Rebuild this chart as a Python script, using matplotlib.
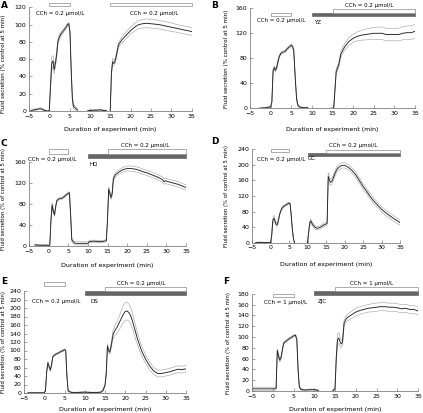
import numpy as np
import matplotlib
matplotlib.use('Agg')
from matplotlib import pyplot as plt
from matplotlib import transforms
from matplotlib.patches import Rectangle

nan = np.nan

# data: rows of (time min, mean, SE)
panel_a = [(-4.5,0.5,0.5),(-4,1,0.8),(-3.5,1.5,1),(-3,2,1),(-2.5,2.5,1),(-2,2.5,1),(-1.5,1.5,0.8),(-1,0.5,0.5),
           (-0.5,0,0.3),(0,0.5,0.5),(0.3,30,5),(0.6,55,8),(0.9,58,6),(1.2,48,5),(1.5,55,4),(1.8,65,4),(2.1,80,3),
           (2.5,86,3),(3,90,2),(3.5,93,2),(4,96,2),(4.5,100,1.5),(4.8,101,1.5),(5.1,90,3),(5.4,45,4),(5.7,12,4),
           (6,5,3),(6.5,3,2),(7,1,1),(nan,nan,nan),(9.5,0.5,0.5),(10,0.5,0.5),(11,1,0.5),(12,1,0.5),(12.5,1.5,0.8),
           (13,1,0.5),(13.5,0.5,0.5),(14,0.5,0.5),(nan,nan,nan),(15,0,0.3),(15.3,45,4),(15.6,57,4),(15.9,55,3),
           (16.2,58,3),(16.5,64,3),(17,76,3),(17.5,80,3),(18,83,3.5),(19,88,4),(20,93,4),(21,97,4.5),(22,100,4.5),
           (23,101,5),(24,101.5,5),(25,101,5),(26,100.5,5),(27,100,5),(28,99,5),(29,98,5),(30,97,5),(31,96,4.5),
           (32,95,4.5),(33,94,4.5),(34,93,4.5),(35,92,4.5)]

panel_b = [(-3,0,0.3),(-2,0.5,0.3),(-1,1,0.5),(-0.5,2,0.5),(0,2,0.5),(0.3,10,2),(0.6,60,4),(0.9,65,3),(1.2,61,3),
           (1.5,66,3),(1.8,75,3),(2.1,83,2),(2.5,88,2),(3,90,2),(3.5,91,2),(4,95,2),(4.5,98,2),(5,101,2),(5.3,99,2),
           (5.6,93,2),(6,45,3),(6.3,15,3),(6.6,5,2),(7,2,1),(8,1,0.5),(9,1,0.5),(nan,nan,nan),(14.5,0,0.3),(15,0,0.3),
           (15.3,1,0.5),(15.6,30,4),(15.9,59,4),(16.2,64,4),(16.5,69,4),(17,86,5),(17.5,93,5),(18,99,5.5),(19,107,6),
           (20,112,6.5),(21,115,7),(22,117,8),(23,118,8.5),(24,119,9),(25,120,9.5),(26,120,10),(27,120,10),
           (28,118,10),(29,118,10),(30,118,10),(31,118,10),(32,120,10.5),(33,121,10.5),(34,121,11),(35,123,11)]

panel_c = [(-3.5,2,0.8),(-3,2,0.8),(-2.5,1.5,0.8),(-2,1.5,0.8),(-1.5,1.5,0.8),(-1,1.5,0.8),(-0.5,1.5,0.8),(0,1,0.5),
           (0.3,2,1),(0.6,50,4),(0.9,78,4),(1.2,66,3),(1.5,59,3),(1.8,75,3),(2.1,86,2),(2.5,89,2),(3,90,2),
           (3.5,91,2),(4,94,2),(4.5,97,2),(5,100,2),(5.3,101,2),(5.6,60,4),(5.9,12,4),(6.5,6,3),(7,5,3),(8,5,3),
           (9,5,3),(10,5,3),(10.3,8,2),(11,9,2),(12,9,2),(13,8,2),(14,9,2),(14.7,10,2),(15,50,4),(15.3,108,4),
           (15.6,100,4),(15.9,92,4),(16.2,100,4),(16.5,128,4),(17,135,4),(17.5,138,4),(18,141,4),(19,145,4.5),
           (20,147,4.5),(21,147,5),(22,146,5),(23,144,5),(24,141,5),(25,139,5),(26,136,5),(27,133,5),(28,130,5),
           (29,126,5),(29.4,122,5),(29.8,124,5),(30,123,5),(31,121,5),(32,119,5),(33,117,5),(34,114,5),(35,111,5)]

panel_d = [(-4,0.5,0.5),(-3,1,0.5),(-2,0.5,0.5),(-1,0.5,0.5),(-0.5,0,0.3),(0,0,0.3),(0.3,15,4),(0.6,55,7),
           (0.9,63,8),(1.2,56,6),(1.5,48,5),(1.8,46,4),(2.1,56,4),(2.5,74,3),(3,87,3),(3.5,93,3),(4,96,2.5),
           (4.5,99,2.5),(5,102,2),(5.3,100,2),(5.6,70,3),(5.9,35,3),(6.2,10,2),(6.5,0,0.5),(nan,nan,nan),
           (10,0,0.5),(10.3,25,5),(10.6,50,6),(10.9,56,5),(11.2,50,5),(11.6,44,4),(12,40,4),(12.5,37,4),(13,38,4),
           (13.5,40,4),(14,43,4),(14.5,46,4),(15,48,4),(15.3,50,4),(15.6,170,10),(15.9,162,9),(16.2,155,8),
           (16.6,158,7),(17,167,7),(17.5,180,7),(18,189,7),(18.5,194,7),(19,197,7),(19.5,199,7),(20,199,7),
           (21,194,7),(22,186,7),(23,175,7),(24,160,7),(25,145,7),(26,132,7),(27,118,7),(28,106,7),(29,96,7),
           (30,86,7),(31,78,7),(32,71,7),(33,64,7),(34,58,7),(35,52,7)]

panel_e = [(-4,0.5,0.3),(-3,0.5,0.3),(-2,0.5,0.3),(-1,0.5,0.3),(0,0.5,0.3),(0.3,5,1),(0.6,50,4),(0.9,71,4),
           (1.2,62,3),(1.5,54,3),(1.8,66,3),(2.1,85,2),(2.5,89,2),(3,92,2),(3.5,94,2),(4,97,2),(4.5,99,2),(5,102,2),
           (5.3,100,2),(5.6,40,3),(5.9,5,2),(6.5,2,1),(7,1,1),(8,1,1),(9,1.5,1),(10,2,1),(11,1.5,1),(12,1,1),
           (13,1,1),(14,2,1),(14.5,6,2),(15,18,3),(15.3,45,4),(15.6,110,6),(15.9,100,5),(16.2,96,5),(16.5,110,6),
           (17,138,10),(17.5,148,12),(18,155,14),(18.5,165,16),(19,175,18),(19.5,185,20),(20,192,21),(20.5,193,21),
           (21,188,20),(21.5,178,19),(22,162,17),(22.5,145,16),(23,128,14),(24,100,12),(25,80,10),(26,64,9),
           (27,52,8),(28,46,8),(29,46,8),(30,48,8),(31,50,8),(32,53,8),(33,56,8),(34,55,8),(35,57,8)]

panel_f = [(-5,4,3),(-4,4,3),(-3,4,3),(-2,4,3),(-1,4,3),(0,4,3),(0.5,4,3),(0.8,5,2),(1.1,75,3),(1.4,65,3),
           (1.7,57,3),(2,62,3),(2.3,75,2),(2.6,88,2),(3,91,2),(3.5,94,2),(4,97,2),(4.5,99,2),(5,102,2),(5.5,103,2),
           (5.8,95,2),(6.1,40,3),(6.4,8,2),(6.8,3,1.5),(7.5,2,1),(8,2,1),(9,2.5,1),(10,2.5,1),(10.5,2,1),(11,1,0.5),
           (nan,nan,nan),(14.5,1,0.5),(15,4,3),(15.3,60,8),(15.6,95,10),(15.9,98,10),(16.2,91,8),(16.5,87,6),
           (16.8,90,6),(17.2,126,6),(17.6,132,6),(18,136,6),(19,141,6.5),(20,146,7),(21,149,7),(22,151,7),
           (23,153,7),(24,154,7.5),(25,155,7.5),(26,156,7.5),(27,156,7.5),(28,155,7.5),(29,155,7.5),(30,154,7.5),
           (31,152,7.5),(32,153,7.5),(33,151,7.5),(34,151,7.5),(35,148,7.5)]

letters = ['A', 'B', 'C', 'D', 'E', 'F']
ymax = [120, 160, 160, 240, 240, 180]
ystep = [20, 40, 40, 40, 20, 20]
ylabels = ['Fluid secretion (% control at 5 min)'] * 2 + ['Fluid secretion (% of control at 5 min)'] * 4
drugs = ['', 'YZ', 'HQ', 'GC', 'DS', 'ZJC']
cch_labels = ['CCh = 0.2 \u03bcmol/L'] * 5 + ['CCh = 1 \u03bcmol/L']
cch1 = (0, 5)
cch2 = (15, 35)
drug_on = (10, 35)

W, H = 423, 413
fig = plt.figure(figsize=(W / 100, H / 100), dpi=100)

# pixel layout: axes box, letter, ylabel x, xlabel y
boxes = [(29, 191.5, 7.3, 111), (250, 415, 8.3, 108.3), (29, 186, 161.7, 246),
         (252, 400, 149.3, 242.7), (24, 186, 291, 393), (252, 418, 293.7, 391)]
letter_pos = [(4, 5), (215, 5), (4, 143), (215, 141), (4, 281), (226, 281)]
ylab_x = [6, 229, 6, 229, 6, 231]
ylab_y = [64, 59, 199, 196, 342, 343]
ylab_fs = [4.1, 4.1, 3.9, 3.9, 3.9, 3.9]
xlab_y = [127, 127, 263, 262, 407, 407]

# annotation pixel positions (y top/bottom of bars, text centres)
open1_y = [(3, 6), (13, 16), (149.3, 154), (149.3, 152.3), (282, 286), (293.7, 297)]
open2_y = [(3, 6), (9.3, 12.5), (149.3, 154.3), (150, 153.3), (287, 291), (287, 290.7)]
dark_y = [None, (12.5, 16), (154.3, 158.3), (153.3, 156), (291, 295), (290.7, 294.7)]
lab1_pos = [(60, 13.5), (281, 20.5), (52, 159), (281, 159), (56, 302), (286, 302.7)]
lab2_pos = [(154, 13.5), (369, 5), (145, 145), (353, 145.7), (141, 283), (372, 283)]
drug_pos = [None, (318, 22), (94, 163.5), (311.5, 159), (94, 301.5), (322, 301)]

fs = 4.5
lab_fs = 4.0
data = [panel_a, panel_b, panel_c, panel_d, panel_e, panel_f]

def figy(py):
    return 1 - py / H

for i, rows in enumerate(data):
    x0, x1, yt, yb = boxes[i]
    ax = fig.add_axes([x0 / W, figy(yb), (x1 - x0) / W, (yb - yt) / H])
    arr = np.array(rows, dtype=float)
    t, m, s = arr[:, 0], arr[:, 1], arr[:, 2]
    ax.plot(t, m + s, color='#a8a8a8', lw=0.45)
    ax.plot(t, m - s, color='#a8a8a8', lw=0.45)
    ax.plot(t, m, color='#222222', lw=0.65)

    ax.set_xlim(-5, 35)
    ax.set_ylim(0, ymax[i])
    ax.set_xticks(range(-5, 36, 5))
    ax.set_yticks(range(0, ymax[i] + 1, ystep[i]))
    for sp in ['top', 'right']:
        ax.spines[sp].set_visible(False)
    for sp in ['left', 'bottom']:
        ax.spines[sp].set_color('#808080')
        ax.spines[sp].set_linewidth(0.6)
    ax.tick_params(direction='in', length=2, width=0.5, color='#808080', labelsize=fs, pad=2)
    ax.set_xlabel('Duration of experiment (min)', fontsize=fs)
    ax.set_ylabel(ylabels[i], fontsize=ylab_fs[i])
    ax.xaxis.set_label_coords(0.5, (yb - xlab_y[i]) / (yb - yt))
    ax.yaxis.set_label_coords((ylab_x[i] - x0) / (x1 - x0), (yb - ylab_y[i]) / (yb - yt))

    tr = transforms.blended_transform_factory(ax.transData, fig.transFigure)

    def bar(span, ys, filled):
        fc = '#666666' if filled else 'white'
        ec = '#666666' if filled else '#8c8c8c'
        ax.add_patch(Rectangle((span[0], figy(ys[1])), span[1] - span[0], (ys[1] - ys[0]) / H,
                               transform=tr, clip_on=False, fc=fc, ec=ec, lw=0.5))

    bar(cch1, open1_y[i], False)
    if dark_y[i] is not None:
        bar(drug_on, dark_y[i], True)
    bar(cch2, open2_y[i], False)

    fig.text(lab1_pos[i][0] / W, figy(lab1_pos[i][1]), cch_labels[i], fontsize=lab_fs, ha='center', va='center')
    fig.text(lab2_pos[i][0] / W, figy(lab2_pos[i][1]), cch_labels[i], fontsize=lab_fs, ha='center', va='center')
    if drug_pos[i] is not None:
        fig.text(drug_pos[i][0] / W, figy(drug_pos[i][1]), drugs[i], fontsize=lab_fs, ha='center', va='center')
    fig.text(letter_pos[i][0] / W, figy(letter_pos[i][1]), letters[i], fontsize=6.5,
             fontweight='bold', ha='center', va='center')

fig.savefig('out.png', dpi=100)
